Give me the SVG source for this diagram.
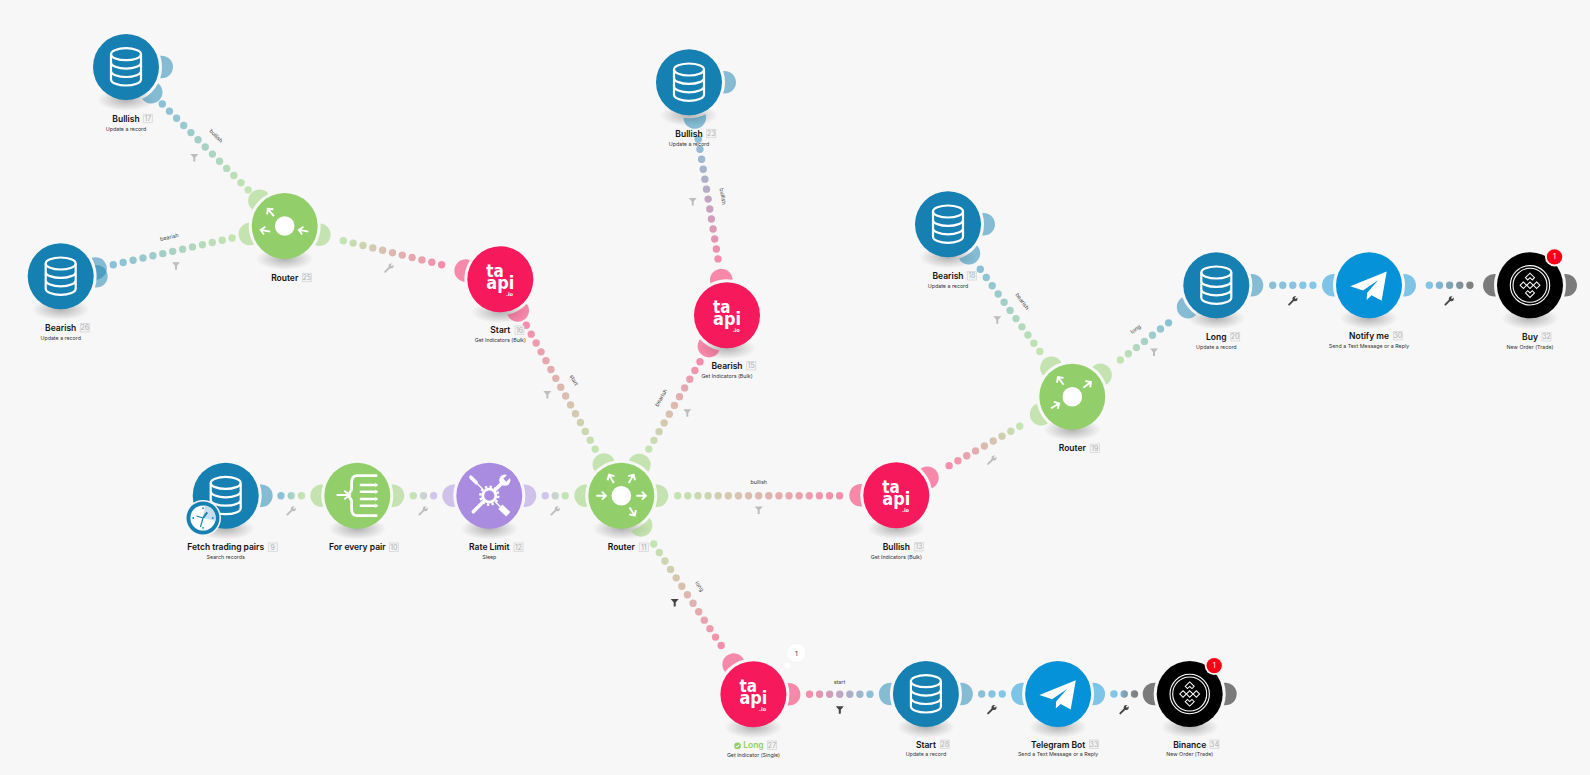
<svg xmlns="http://www.w3.org/2000/svg" width="1590" height="775" viewBox="0 0 1590 775">
<style>
.t{font:600 8.5px Inter,"Liberation Sans",sans-serif;fill:#111;text-anchor:middle}
.s{font:400 5.3px Inter,"Liberation Sans",sans-serif;fill:#333;text-anchor:middle}
.i{fill:#f4f4f4;stroke:#d8d8d8;stroke-width:.8}
.d{font:400 7px Inter,"Liberation Sans",sans-serif;fill:#b0b0b0;text-anchor:middle}
.l{font:400 5.4px Inter,"Liberation Sans",sans-serif;fill:#444;text-anchor:middle}
.c{fill:none;stroke-width:7.4;stroke-linecap:round}
.h{opacity:.5}
.w{fill:none;stroke:#fff;stroke-width:2.2}
.blue{fill:#1580b1}.pink{fill:#f61a5c}.green{fill:#92cf6b}.violet{fill:#a98be0}.tele{fill:#0692d8}.black{fill:#000}
.gf{fill:#bdbdbd}.df{fill:#444}
.gs{stroke:#bdbdbd}.ds{stroke:#444}
.lg{font-family:"DejaVu Sans",sans-serif;font-weight:700;fill:#fff}
</style>
<defs>
<radialGradient id="shg"><stop offset="0" stop-color="#000" stop-opacity=".28"/><stop offset="1" stop-color="#000" stop-opacity="0"/></radialGradient>
<ellipse id="sh" cy="33" rx="29" ry="11" fill="url(#shg)"/>
<path id="hd" d="M34.2,-11.2A11.3 11.3 0 1 1 34.2,11.2A36 36 0 0 0 34.2,-11.2Z"/>
<g id="db" class="w"><ellipse cy="-12.8" rx="15" ry="6"/><path d="M-15,-12.8V12.5A15 6 0 0 0 15,12.5V-12.8M-15,-4.4A15 6 0 0 0 15,-4.4M-15,4A15 6 0 0 0 15,4"/></g>
<g id="ta"><text class="lg" x="-14" y="-2.7" font-size="17.5" textLength="17.5" lengthAdjust="spacingAndGlyphs">ta</text><text class="lg" x="-14" y="10" font-size="17" textLength="28" lengthAdjust="spacingAndGlyphs">api</text><text class="lg" x="5.7" y="16.3" font-size="5">.io</text></g>
<path id="ar" d="M-5,0H4.4M.6,-4L4.6,0L.6,4" fill="none" stroke="#fff" stroke-width="1.9"/>
<g id="tg"><path d="M17.7,-13.7L-18.7,1L-6,5.3L9,-5L-2,7.6L-2.3,14.6L2.6,10L12.6,15.5Z" fill="#fff"/></g>
<g id="bn" fill="none" stroke="#fff"><circle r="19.7" stroke-width="1.1"/><circle r="17" stroke-width="1.1"/><g transform="rotate(45)" stroke-width="1"><rect x="-2.3" y="-2.3" width="4.6" height="4.6"/><rect x="-7" y="2.4" width="4.6" height="4.6"/><rect x="2.4" y="-7" width="4.6" height="4.6"/><path d="M-8.6,-2.2V-8.6H-2.2V-5.4H-5.4V-2.2ZM8.6,2.2V8.6H2.2V5.4H5.4V2.2Z"/></g></g>
<g id="fn"><path d="M-4,-3.8H4L1,-.2V3.8H-1V-.2Z"/></g>
<g id="wr"><path d="M-3.9,3.9L1,-1" fill="none" stroke-width="1.9" stroke-linecap="round"/><circle cx="2" cy="-2" r="2.5" stroke="none"/><path d="M2.2,-2.2L5,-5" fill="none" stroke="#f7f7f7" stroke-width="1.6"/></g>
<linearGradient id="bg"><stop offset="0" stop-color="#8bc0d7"/><stop offset="1" stop-color="#c4e4b2"/></linearGradient>
<linearGradient id="gp"><stop offset="0" stop-color="#c4e4b2"/><stop offset="1" stop-color="#f58dac"/></linearGradient>
<linearGradient id="gv"><stop offset="0" stop-color="#c4e4b2"/><stop offset="1" stop-color="#d1c4ee"/></linearGradient>
<linearGradient id="pb"><stop offset="0" stop-color="#f58dac"/><stop offset="1" stop-color="#8bc0d7"/></linearGradient>
<linearGradient id="bt"><stop offset="0" stop-color="#8bc0d7"/><stop offset="1" stop-color="#82c7ea"/></linearGradient>
<linearGradient id="tk"><stop offset="0" stop-color="#82c7ea"/><stop offset="1" stop-color="#808080"/></linearGradient>
<linearGradient id="c1" href="#bg" gradientUnits="userSpaceOnUse" x1="162.3" y1="104" x2="248.3" y2="190"/>
<linearGradient id="c2" href="#bg" gradientUnits="userSpaceOnUse" x1="113.3" y1="264.7" x2="232.3" y2="238"/>
<linearGradient id="c3" href="#gp" gradientUnits="userSpaceOnUse" x1="343.3" y1="240.7" x2="441.7" y2="264.7"/>
<linearGradient id="c4" href="#gp" gradientUnits="userSpaceOnUse" x1="595.3" y1="449.3" x2="526.3" y2="325.3"/>
<linearGradient id="c5" href="#gp" gradientUnits="userSpaceOnUse" x1="648.7" y1="449.3" x2="700" y2="361.7"/>
<linearGradient id="c6" href="#gp" gradientUnits="userSpaceOnUse" x1="677.7" y1="495.7" x2="839.7" y2="495.7"/>
<linearGradient id="c7" href="#gp" gradientUnits="userSpaceOnUse" x1="653.7" y1="544" x2="721.3" y2="645.8"/>
<linearGradient id="c8" href="#bg" gradientUnits="userSpaceOnUse" x1="281" y1="495.7" x2="301.7" y2="495.7"/>
<linearGradient id="c9" href="#gv" gradientUnits="userSpaceOnUse" x1="413.3" y1="495.7" x2="433.7" y2="495.7"/>
<linearGradient id="c10" href="#gv" gradientUnits="userSpaceOnUse" x1="565.3" y1="495.7" x2="545.3" y2="495.7"/>
<linearGradient id="c11" href="#pb" gradientUnits="userSpaceOnUse" x1="809.5" y1="694.3" x2="870.1" y2="694.3"/>
<linearGradient id="c12" href="#bt" gradientUnits="userSpaceOnUse" x1="981.7" y1="694" x2="1002.3" y2="694"/>
<linearGradient id="c13" href="#tk" gradientUnits="userSpaceOnUse" x1="1113.9" y1="694" x2="1134.6" y2="694"/>
<linearGradient id="c14" href="#pb" gradientUnits="userSpaceOnUse" x1="718" y1="259" x2="698.3" y2="139.3"/>
<linearGradient id="c15" href="#bg" gradientUnits="userSpaceOnUse" x1="980.3" y1="269.3" x2="1040" y2="351.7"/>
<linearGradient id="c16" href="#bg" gradientUnits="userSpaceOnUse" x1="1168.7" y1="322.7" x2="1120.3" y2="360"/>
<linearGradient id="c17" href="#gp" gradientUnits="userSpaceOnUse" x1="1019.7" y1="426.3" x2="949" y2="465.7"/>
<linearGradient id="c18" href="#bt" gradientUnits="userSpaceOnUse" x1="1272.7" y1="285.3" x2="1313" y2="285.3"/>
<linearGradient id="c19" href="#tk" gradientUnits="userSpaceOnUse" x1="1429.3" y1="285.3" x2="1470" y2="285.3"/>
</defs>
<rect width="1590" height="775" fill="#f7f7f7"/>
<g id="connectors">
<path class="c" stroke="url(#c1)" stroke-dasharray="0 10.12" d="M162.3,104L248.3,190"/>
<path class="c" stroke="url(#c2)" stroke-dasharray="0 10.15" d="M113.3,264.7L232.3,238"/>
<path class="c" stroke="url(#c3)" stroke-dasharray="0 10.12" d="M343.3,240.7L441.7,264.7"/>
<path class="c" stroke="url(#c4)" stroke-dasharray="0 10.12" d="M526.3,325.3L595.3,449.3"/>
<path class="c" stroke="url(#c5)" stroke-dasharray="0 10.13" d="M700,361.7L648.7,449.3"/>
<path class="c" stroke="url(#c6)" stroke-dasharray="0 10.12" d="M677.7,495.7L839.7,495.7"/>
<path class="c" stroke="url(#c7)" stroke-dasharray="0 10.16" d="M653.7,544L721.3,645.8"/>
<path class="c" stroke="url(#c8)" stroke-dasharray="0 10.3" d="M281,495.7H301.7"/>
<path class="c" stroke="url(#c9)" stroke-dasharray="0 10.15" d="M413.3,495.7H433.7"/>
<path class="c" stroke="url(#c10)" stroke-dasharray="0 9.95" d="M545.3,495.7H565.3"/>
<path class="c" stroke="url(#c11)" stroke-dasharray="0 10.08" d="M809.5,694.3H870.1"/>
<path class="c" stroke="url(#c12)" stroke-dasharray="0 10.28" d="M981.7,694H1002.3"/>
<path class="c" stroke="url(#c13)" stroke-dasharray="0 10.3" d="M1113.9,694H1134.6"/>
<path class="c" stroke="url(#c14)" stroke-dasharray="0 10.1" d="M698.3,139.3L718,259"/>
<path class="c" stroke="url(#c15)" stroke-dasharray="0 10.15" d="M980.3,269.3L1040,351.7"/>
<path class="c" stroke="url(#c16)" stroke-dasharray="0 10.15" d="M1120.3,360L1168.7,322.7"/>
<path class="c" stroke="url(#c17)" stroke-dasharray="0 10.1" d="M1019.7,426.3L949,465.7"/>
<path class="c" stroke="url(#c18)" stroke-dasharray="0 10.05" d="M1272.7,285.3H1313"/>
<path class="c" stroke="url(#c19)" stroke-dasharray="0 10.15" d="M1429.3,285.3H1470"/>
<text class="l" transform="translate(214.7,137.3) rotate(45)">bullish</text>
<text class="l" transform="translate(169.7,239) rotate(-12.6)">bearish</text>
<text class="l" transform="translate(572.3,381) rotate(61)">start</text>
<text class="l" transform="translate(662.7,398.7) rotate(-60)">bearish</text>
<text class="l" transform="translate(758.7,484)">bullish</text>
<text class="l" transform="translate(698,587.3) rotate(57)">long</text>
<text class="l" transform="translate(839.4,684)">start</text>
<text class="l" transform="translate(721,196.7) rotate(80)">bullish</text>
<text class="l" transform="translate(1020.7,302.3) rotate(54)">bearish</text>
<text class="l" transform="translate(1136.7,330.7) rotate(-38)">long</text>
<use href="#fn" class="gf" x="194.3" y="157.7"/>
<use href="#fn" class="gf" x="176" y="266"/>
<use href="#fn" class="gf" x="547.3" y="394.7"/>
<use href="#fn" class="gf" x="687.3" y="413"/>
<use href="#fn" class="gf" x="758.7" y="510.3"/>
<use href="#fn" class="df" x="674.7" y="602.7"/>
<use href="#fn" class="df" x="839.8" y="710"/>
<use href="#fn" class="gf" x="692.7" y="201.7"/>
<use href="#fn" class="gf" x="997.3" y="320"/>
<use href="#fn" class="gf" x="1154" y="352.3"/>
<use href="#wr" class="gf gs" x="291.3" y="510.7"/>
<use href="#wr" class="gf gs" x="423.3" y="510.7"/>
<use href="#wr" class="gf gs" x="555.3" y="510.7"/>
<use href="#wr" class="df ds" x="992" y="709.5"/>
<use href="#wr" class="df ds" x="1124.2" y="709.5"/>
<use href="#wr" class="df ds" x="1293" y="300.7"/>
<use href="#wr" class="df ds" x="1449.3" y="300.7"/>
<use href="#wr" class="gf gs" x="992" y="460"/>
<use href="#wr" class="gf gs" x="389" y="268"/>
</g>
<g id="n17" class="blue" transform="translate(126,67)"><use href="#sh"/><use href="#hd" class="h"/><use href="#hd" class="h" transform="rotate(45)"/><circle r="33"/><use href="#db"/><text class="t" y="54.7">Bullish</text><rect class="i" x="17.3" y="47.3" width="9" height="8.4"/><text class="d" x="21.8" y="54">17</text><text class="s" y="63.7">Update a record</text></g>
<g id="n26" class="blue" transform="translate(60.7,276.3)"><use href="#sh"/><use href="#hd" class="h"/><use href="#hd" class="h" transform="rotate(-12.7)"/><circle r="33"/><use href="#db"/><text class="t" y="54.7">Bearish</text><rect class="i" x="19.6" y="47.3" width="9" height="8.4"/><text class="d" x="24.1" y="54">26</text><text class="s" y="63.7">Update a record</text></g>
<g id="n25" class="green" transform="translate(284.7,226)"><use href="#sh"/><use href="#hd" class="h" transform="rotate(-135)"/><use href="#hd" class="h" transform="rotate(167)"/><use href="#hd" class="h" transform="rotate(14)"/><circle r="33"/><circle r="9.8" fill="#fff"/><use href="#ar" transform="translate(-14,-13.7) rotate(-130)"/><use href="#ar" transform="translate(-19.5,4.7) rotate(190)"/><use href="#ar" transform="translate(18.7,4.7) rotate(190)"/><text class="t" y="54.7">Router</text><rect class="i" x="17.6" y="47.3" width="9" height="8.4"/><text class="d" x="22.1" y="54">25</text></g>
<g id="n16" class="pink" transform="translate(500.3,279.3)"><use href="#sh"/><use href="#hd" class="h" transform="rotate(194)"/><use href="#hd" class="h" transform="rotate(60.8)"/><circle r="33"/><use href="#ta"/><text class="t" y="54">Start</text><rect class="i" x="14.7" y="46.6" width="9" height="8.4"/><text class="d" x="19.2" y="53.3">16</text><text class="s" y="62.7">Get Indicators (Bulk)</text></g>
<g id="n15" class="pink" transform="translate(727,315.3)"><use href="#sh"/><use href="#hd" class="h" transform="rotate(-99.3)"/><use href="#hd" class="h" transform="rotate(120.4)"/><circle r="33"/><use href="#ta"/><text class="t" y="53.7">Bearish</text><rect class="i" x="19.7" y="46.3" width="9" height="8.4"/><text class="d" x="24.2" y="53">15</text><text class="s" y="62.7">Get Indicators (Bulk)</text></g>
<g id="n23" class="blue" transform="translate(689,82.3)"><use href="#sh"/><use href="#hd" class="h"/><use href="#hd" class="h" transform="rotate(80.7)"/><circle r="33"/><use href="#db"/><text class="t" y="54.4">Bullish</text><rect class="i" x="17.7" y="47" width="9" height="8.4"/><text class="d" x="22.2" y="53.7">23</text><text class="s" y="63.4">Update a record</text></g>
<g id="n18" class="blue" transform="translate(948,224.3)"><use href="#sh"/><use href="#hd" class="h"/><use href="#hd" class="h" transform="rotate(54.2)"/><circle r="33"/><use href="#db"/><text class="t" y="54.7">Bearish</text><rect class="i" x="19.3" y="47.3" width="9" height="8.4"/><text class="d" x="23.8" y="54">18</text><text class="s" y="63.7">Update a record</text></g>
<g id="n19" class="green" transform="translate(1072.3,396.7)"><use href="#sh"/><use href="#hd" class="h" transform="rotate(-125.8)"/><use href="#hd" class="h" transform="rotate(-37.7)"/><use href="#hd" class="h" transform="rotate(150.7)"/><circle r="33"/><circle r="9.8" fill="#fff"/><use href="#ar" transform="translate(-11.7,-16) rotate(-126)"/><use href="#ar" transform="translate(15,-12) rotate(-38)"/><use href="#ar" transform="translate(-17,9) rotate(-30)"/><text class="t" y="54.7">Router</text><rect class="i" x="18" y="47.3" width="9" height="8.4"/><text class="d" x="22.5" y="54">19</text></g>
<g id="n20" class="blue" transform="translate(1216.3,285.3)"><use href="#sh"/><use href="#hd" class="h"/><use href="#hd" class="h" transform="rotate(142.3)"/><circle r="33"/><use href="#db"/><text class="t" y="54.7">Long</text><rect class="i" x="14.4" y="47.3" width="9" height="8.4"/><text class="d" x="18.9" y="54">20</text><text class="s" y="63.7">Update a record</text></g>
<g id="n30" class="tele" transform="translate(1369,285.3)"><use href="#sh"/><use href="#hd" class="h"/><use href="#hd" class="h" transform="rotate(180)"/><circle r="33"/><use href="#tg"/><text class="t" y="53.7">Notify me</text><rect class="i" x="24.3" y="46.3" width="9" height="8.4"/><text class="d" x="28.8" y="53">30</text><text class="s" y="62.7">Send a Text Message or a Reply</text></g>
<g id="n32" class="black" transform="translate(1530,285.3)"><use href="#sh"/><use href="#hd" class="h"/><use href="#hd" class="h" transform="rotate(180)"/><circle r="33"/><use href="#bn"/><circle cx="24.5" cy="-28.4" r="9.5" fill="#f7f7f7"/><circle cx="24.5" cy="-28.4" r="7.7" fill="#fa0017"/><text x="24.5" y="-25.9" font-family="Inter,sans-serif" font-size="7" fill="#fff" text-anchor="middle">1</text><text class="t" y="54.7">Buy</text><rect class="i" x="12" y="47.3" width="9" height="8.4"/><text class="d" x="16.5" y="54">32</text><text class="s" y="63.7">New Order (Trade)</text></g>
<g id="n13" class="pink" transform="translate(896.3,495.3)"><use href="#sh"/><use href="#hd" class="h" transform="rotate(180)"/><use href="#hd" class="h" transform="rotate(-29.3)"/><circle r="33"/><use href="#ta"/><text class="t" y="54.7">Bullish</text><rect class="i" x="18" y="47.3" width="9" height="8.4"/><text class="d" x="22.5" y="54">13</text><text class="s" y="63.7">Get Indicators (Bulk)</text></g>
<g id="n9" class="blue" transform="translate(225.7,495.7)"><use href="#sh"/><use href="#hd" class="h"/><circle r="33"/><use href="#db"/><g transform="translate(-22.7,22.3)"><circle r="18" fill="#f7f7f7"/><circle r="16.5"/><circle r="12.6" fill="#fff"/><path d="M0,0L2,-12.4A12.6 12.6 0 0 1 12.4,3Z" fill="#c5dfee"/><path d="M0,0L-6.5,-2M0,0L-2.5,9" fill="none" stroke="#1580b1" stroke-width="1.2"/><path d="M0,0L4.2,-5.6" fill="none" stroke="#1580b1" stroke-width="2"/><circle cy="-9.8" r=".9"/><circle cx="9.8" r=".9"/><circle cy="9.8" r=".9"/><circle cx="-9.8" r=".9"/></g><text class="t" y="54.7">Fetch trading pairs</text><rect class="i" x="42.6" y="47.3" width="9" height="8.4"/><text class="d" x="47.1" y="54">9</text><text class="s" y="63.7">Search records</text></g>
<g id="n10" class="green" transform="translate(357.3,495.7)"><use href="#sh"/><use href="#hd" class="h"/><use href="#hd" class="h" transform="rotate(180)"/><circle r="33"/><path d="M20,-20H0Q-5.7,-20 -5.7,-13V-6L-9,-.7L-5.7,5V13Q-5.7,20 0,20H20" fill="none" stroke="#fff" stroke-width="2.8"/><path d="M-20.7,-.7H-8M-13,-5L-7.5,-.7L-13,3.6" fill="none" stroke="#fff" stroke-width="2"/><path d="M2.5,-10.7H18M2.5,-4H18M2.5,3.3H18M2.5,10H18" fill="none" stroke="#fff" stroke-width="2.6"/><path d="M18,-13L21,-10.7L18,-8.4ZM18,-6.3L21,-4L18,-1.7ZM18,1L21,3.3L18,5.6ZM18,7.7L21,10L18,12.3Z" fill="#fff"/><text class="t" y="54.7">For every pair</text><rect class="i" x="32" y="47.3" width="9" height="8.4"/><text class="d" x="36.5" y="54">10</text></g>
<g id="n12" class="violet" transform="translate(489.3,495.7)"><use href="#sh"/><use href="#hd" class="h"/><use href="#hd" class="h" transform="rotate(180)"/><circle r="33"/><g fill="none" stroke="#fff"><circle r="6.5" stroke-width="2.8"/><circle r="9" stroke-width="2.4" stroke-dasharray="2.36 2.35"/><path d="M-6,-6L-13,-13" stroke-width="1.3"/><path d="M-13,-13L-18.5,-18.5" stroke-width="3.5" stroke-linecap="round"/><path d="M5,-5L13,-13" stroke-width="3.6"/><path d="M-6,6L-16,16" stroke-width="3.4" stroke-linecap="round"/><path d="M6,6L11,11" stroke-width="1.4"/><path d="M11,11L19,18.5" stroke-width="6"/></g><circle cx="15.5" cy="-15.5" r="5.6" fill="#fff"/><path d="M15.5,-15.5L22,-22" stroke="#a98be0" stroke-width="4.2"/><text class="t" y="54.7">Rate Limit</text><rect class="i" x="24.7" y="47.3" width="9" height="8.4"/><text class="d" x="29.2" y="54">12</text><text class="s" y="63.7">Sleep</text></g>
<g id="n11" class="green" transform="translate(621.3,495.7)"><use href="#sh"/><use href="#hd" class="h" transform="rotate(-119.2)"/><use href="#hd" class="h" transform="rotate(-59.6)"/><use href="#hd" class="h" transform="rotate(180)"/><use href="#hd" class="h"/><use href="#hd" class="h" transform="rotate(56.4)"/><circle r="33"/><circle r="9.8" fill="#fff"/><use href="#ar" transform="translate(-10,-17) rotate(-120)"/><use href="#ar" transform="translate(10,-17) rotate(-60)"/><use href="#ar" transform="translate(-20,0)"/><use href="#ar" transform="translate(20,0)"/><use href="#ar" transform="translate(11,16) rotate(57)"/><text class="t" y="54.7">Router</text><rect class="i" x="18" y="47.3" width="9" height="8.4"/><text class="d" x="22.5" y="54">11</text></g>
<g id="n27" class="pink" transform="translate(753.4,694.3)"><use href="#sh"/><use href="#hd" class="h" transform="rotate(-123.6)"/><use href="#hd" class="h"/><circle r="33"/><use href="#ta"/><circle cx="-15.9" cy="51.6" r="3.3" fill="#92cf6b"/><path d="M-17.6,51.6L-16.3,52.9L-14.2,50.4" fill="none" stroke="#fff" stroke-width="1"/><text class="t" y="54.2" style="fill:#92cf6b">Long</text><rect class="i" x="14.1" y="46.7" width="9" height="8.4"/><text class="d" x="18.6" y="53.4">27</text><text class="s" y="62.7">Get Indicator (Single)</text><circle cx="34.1" cy="-28.8" r="3.1" fill="#fff"/><circle cx="28.2" cy="-24" r="1.6" fill="#fff"/><circle cx="43" cy="-41.3" r="9.6" fill="#fff" stroke="#eee" stroke-width=".5"/><text x="43" y="-38.8" font-family="Inter,sans-serif" font-size="6.5" fill="#333" text-anchor="middle">1</text></g>
<g id="n28" class="blue" transform="translate(925.9,694)"><use href="#sh"/><use href="#hd" class="h"/><use href="#hd" class="h" transform="rotate(180)"/><circle r="33"/><use href="#db"/><text class="t" y="53.5">Start</text><rect class="i" x="14.4" y="46" width="9" height="8.4"/><text class="d" x="18.9" y="52.7">28</text><text class="s" y="62">Update a record</text></g>
<g id="n33" class="tele" transform="translate(1058.1,694)"><use href="#sh"/><use href="#hd" class="h"/><use href="#hd" class="h" transform="rotate(180)"/><circle r="33"/><use href="#tg"/><text class="t" y="53.5">Telegram Bot</text><rect class="i" x="31.3" y="46" width="9" height="8.4"/><text class="d" x="35.8" y="52.7">33</text><text class="s" y="62">Send a Text Message or a Reply</text></g>
<g id="n34" class="black" transform="translate(1189.7,694)"><use href="#sh"/><use href="#hd" class="h"/><use href="#hd" class="h" transform="rotate(180)"/><circle r="33"/><use href="#bn"/><circle cx="24.5" cy="-28.4" r="9.5" fill="#f7f7f7"/><circle cx="24.5" cy="-28.4" r="7.7" fill="#fa0017"/><text x="24.5" y="-25.9" font-family="Inter,sans-serif" font-size="7" fill="#fff" text-anchor="middle">1</text><text class="t" y="53.5">Binance</text><rect class="i" x="20.3" y="46" width="9" height="8.4"/><text class="d" x="24.8" y="52.7">34</text><text class="s" y="62">New Order (Trade)</text></g>
</svg>
